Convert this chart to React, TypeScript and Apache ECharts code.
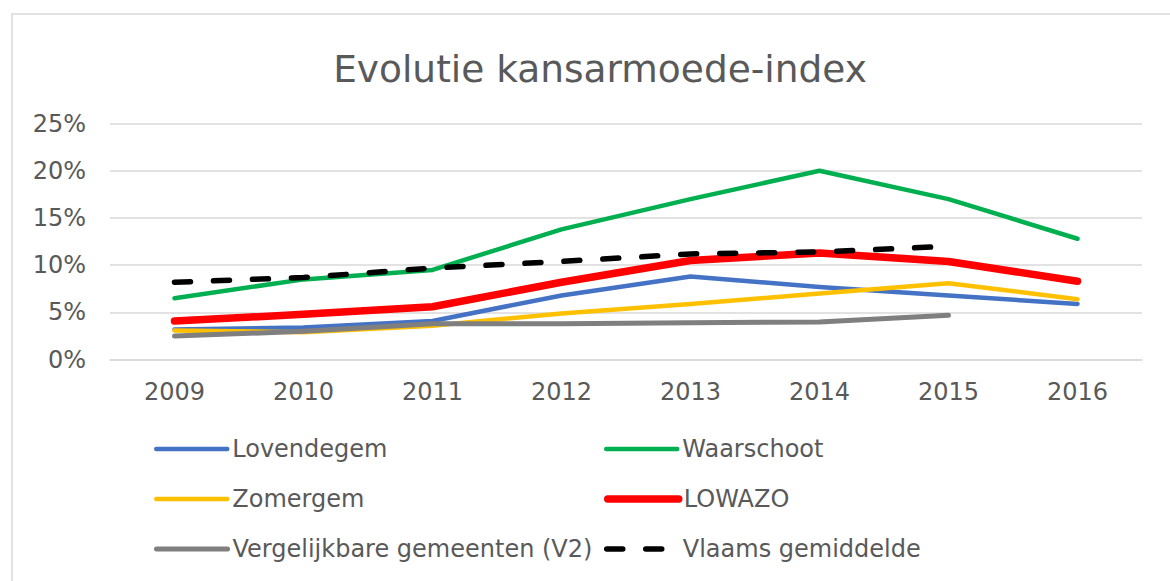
import React, { useEffect, useRef } from "react";
import * as echarts from "echarts";

const years = ["2009", "2010", "2011", "2012", "2013", "2014", "2015", "2016"];
const lovendegem = [3.2, 3.4, 4.1, 6.8, 8.8, 7.7, 6.8, 5.9];
const waarschoot = [6.5, 8.5, 9.5, 13.8, 17.0, 20.0, 17.0, 12.8];
const zomergem = [3.1, 2.9, 3.6, 4.9, 5.9, 7.0, 8.1, 6.4];
const lowazo = [4.1, 4.8, 5.6, 8.2, 10.5, 11.3, 10.4, 8.3];
const vergelijkbaar = [2.5, 3.0, 3.8, 3.8, 3.9, 4.0, 4.7, null];
const vlaams = [8.2, 8.7, 9.7, 10.4, 11.2, 11.4, 12.0, null];
const yTicks = [0, 5, 10, 15, 20, 25];

const FONT = "DejaVu Sans";
const TXT = "#595959";
const FS = 24;

export default function App() {
  const ref = useRef<HTMLDivElement>(null);
  useEffect(() => {
    if (!ref.current) return;
    const chart = echarts.init(ref.current, null, { renderer: "svg" });
    const mk = (name: string, data: (number | null)[], color: string, width: number, type: any = "solid") => ({
      name,
      type: "line",
      data,
      symbol: "none",
      connectNulls: false,
      lineStyle: { color, width, type, cap: "round", join: "round" },
      itemStyle: { color },
    });
    const legendPos = [
      [154, 449],
      [604, 449],
      [154, 499],
      [604, 499],
      [154, 549],
      [604, 549],
    ];
    const names = [
      "Lovendegem",
      "Waarschoot",
      "Zomergem",
      "LOWAZO",
      "Vergelijkbare gemeenten (V2)",
      "Vlaams gemiddelde",
    ];
    chart.setOption({
      animation: false,
      backgroundColor: "#ffffff",
      title: {
        text: "Evolutie kansarmoede-index",
        left: 595,
        top: 41.5,
        textAlign: "center",
        textStyle: { fontFamily: FONT, fontSize: 37.5, fontWeight: "normal", color: TXT, lineHeight: 44 },
      },
      graphic: [
        {
          type: "rect",
          shape: { x: 12, y: 14, width: 1200, height: 620 },
          style: { fill: "none", stroke: "#d9d9d9", lineWidth: 1.5 },
          silent: true,
        },
      ],
      legend: names.map((n, i) => ({
        data: [n],
        left: legendPos[i][0],
        top: legendPos[i][1] - 13,
        padding: 0,
        itemWidth: 71,
        itemHeight: 26,
        selectedMode: false,
        textStyle: { fontFamily: FONT, fontSize: FS, color: TXT, lineHeight: 26 },
        itemStyle: { opacity: 0 },
        lineStyle: { width: "inherit", type: "inherit", cap: "round" },
      })),
      grid: { left: 110, right: 28, top: 123.5, bottom: 221.3, containLabel: false },
      xAxis: {
        type: "category",
        data: years,
        boundaryGap: true,
        axisLine: { show: true, lineStyle: { color: "#d9d9d9", width: 1.5 } },
        axisTick: { show: false },
        axisLabel: { fontFamily: FONT, fontSize: FS, color: TXT, margin: 20 },
      },
      yAxis: {
        type: "value",
        min: yTicks[0],
        max: yTicks[yTicks.length - 1],
        interval: 5,
        axisLine: { show: false },
        axisTick: { show: false },
        splitLine: { lineStyle: { color: "#d9d9d9", width: 1.5 } },
        axisLabel: { fontFamily: FONT, fontSize: FS, color: TXT, margin: 24, formatter: "{value}%" },
      },
      series: [
        mk(names[0], lovendegem, "#4472C4", 4.5),
        mk(names[1], waarschoot, "#00B050", 4.5),
        mk(names[2], zomergem, "#FFC000", 4.5),
        mk(names[3], lowazo, "#FF0000", 7.5),
        mk(names[4], vergelijkbaar, "#7F7F7F", 5),
        mk(names[5], vlaams, "#000000", 5.5, [16, 23]),
      ],
    });
    return () => chart.dispose();
  }, []);
  return (
    <div
      ref={ref}
      style={{ position: "fixed", left: 0, top: 0, width: 1170, height: 581, background: "#fff" }}
    />
  );
}
